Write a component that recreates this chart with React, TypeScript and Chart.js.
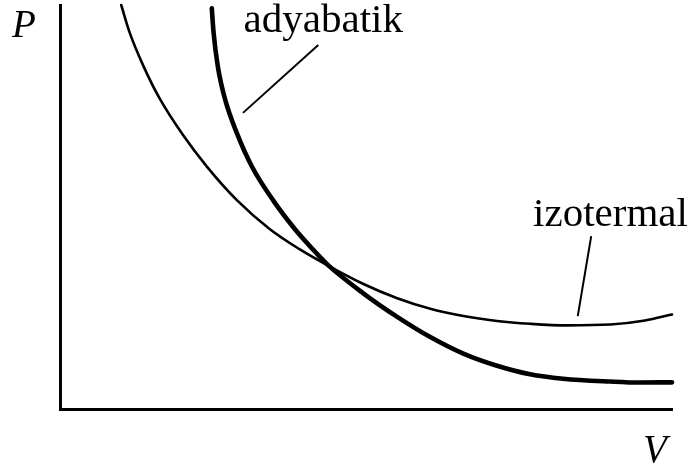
import React, { useEffect, useRef } from "react";
import { Chart, registerables } from "chart.js";

Chart.register(...registerables);

// Volume (V) and pressure (P) readings, arbitrary units
const isothermV = [1.0, 1.14, 1.36, 1.63, 2.01, 2.4, 2.89, 3.43, 3.92, 4.38, 4.95, 5.51, 6.05, 6.59, 7.14, 7.68, 8.28, 8.99, 9.56, 10.0];
const isothermP = [10.0, 9.31, 8.5, 7.68, 6.78, 6.0, 5.17, 4.45, 3.95, 3.55, 3.1, 2.74, 2.48, 2.3, 2.18, 2.11, 2.07, 2.09, 2.19, 2.34];

const adiabaticV = [2.48, 2.51, 2.58, 2.7, 2.89, 3.14, 3.48, 3.84, 4.2, 4.38, 4.95, 5.51, 6.05, 6.59, 7.14, 7.68, 8.22, 8.99, 9.48, 10.0];
const adiabaticP = [9.92, 9.31, 8.47, 7.65, 6.83, 5.99, 5.17, 4.45, 3.84, 3.56, 2.87, 2.28, 1.78, 1.37, 1.07, 0.86, 0.75, 0.68, 0.655, 0.66];

const axisTitles = ["V", "P"];
const curveNames = ["izotermal", "adyabatik"];

// annotation layout (data coordinates)
const annotations = [
  { text: curveNames[0], at: [7.73, 4.53], line: [[8.46, 2.3], [8.68, 4.28]] },
  { text: curveNames[1], at: [3.0, 9.33], line: [[2.99, 7.33], [4.22, 9.01]] },
];

const toPoints = (xs: number[], ys: number[]) => xs.map((x, i) => ({ x, y: ys[i] }));

const annotationPlugin = {
  id: "pvAnnotations",
  afterDatasetsDraw(chart: any) {
    const { ctx, scales, chartArea } = chart;
    const xs = scales.x;
    const ys = scales.y;
    ctx.save();
    ctx.strokeStyle = "#000";
    ctx.fillStyle = "#000";
    ctx.lineWidth = 2;
    ctx.lineCap = "butt";
    ctx.textBaseline = "alphabetic";
    ctx.textAlign = "left";
    for (const a of annotations) {
      ctx.beginPath();
      ctx.moveTo(xs.getPixelForValue(a.line[0][0]), ys.getPixelForValue(a.line[0][1]));
      ctx.lineTo(xs.getPixelForValue(a.line[1][0]), ys.getPixelForValue(a.line[1][1]));
      ctx.stroke();
    }
    for (const a of annotations) {
      ctx.font = '41px "Liberation Serif", serif';
      ctx.fillText(a.text, xs.getPixelForValue(a.at[0]), ys.getPixelForValue(a.at[1]));
    }
    ctx.font = 'italic 39px "Liberation Serif", serif';
    ctx.fillText(axisTitles[1], chartArea.left - 48, chartArea.top + 32);
    ctx.fillText(axisTitles[0], chartArea.right - 29, chartArea.bottom + 53);
    ctx.restore();
  },
};

export default function App() {
  const canvasRef = useRef<HTMLCanvasElement | null>(null);

  useEffect(() => {
    if (!canvasRef.current) return;
    const chart = new Chart(canvasRef.current, {
      type: "scatter",
      data: {
        datasets: [
          {
            label: curveNames[0],
            data: toPoints(isothermV, isothermP),
            showLine: true,
            borderColor: "#000",
            borderWidth: 2.6,
            pointRadius: 0,
            cubicInterpolationMode: "monotone",
            borderCapStyle: "round",
            clip: false,
          } as any,
          {
            label: curveNames[1],
            data: toPoints(adiabaticV, adiabaticP),
            showLine: true,
            borderColor: "#000",
            borderWidth: 4.6,
            pointRadius: 0,
            cubicInterpolationMode: "monotone",
            borderCapStyle: "round",
            clip: false,
          } as any,
        ],
      },
      options: {
        responsive: false,
        animation: false,
        font: { family: '"Liberation Serif", serif' },
        layout: { padding: { left: 60, right: 23, top: 5, bottom: 61 } },
        plugins: { legend: { display: false }, tooltip: { enabled: false } },
        scales: {
          x: {
            type: "linear",
            min: 0,
            max: 10,
            ticks: { display: false },
            grid: { display: false, drawTicks: false },
            border: { display: true, color: "#000", width: 3 },
          },
          y: {
            type: "linear",
            min: 0,
            max: 10,
            ticks: { display: false },
            grid: { display: false, drawTicks: false },
            border: { display: true, color: "#000", width: 3 },
          },
        },
      } as any,
      plugins: [annotationPlugin],
    });
    return () => chart.destroy();
  }, []);

  return (
    <div style={{ position: "absolute", left: 0, top: 0, width: 695, height: 470, background: "#fff" }}>
      <canvas ref={canvasRef} width={695} height={470} />
    </div>
  );
}
